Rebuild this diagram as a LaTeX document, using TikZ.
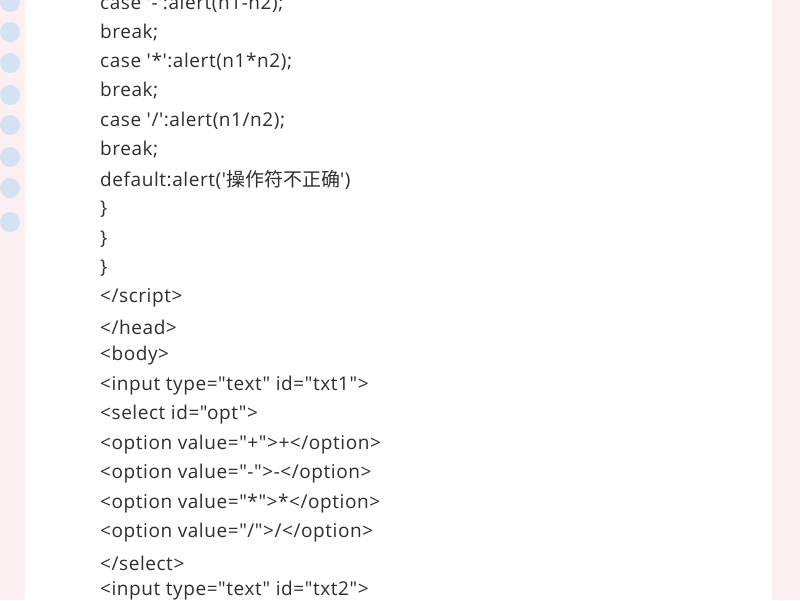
\documentclass[tikz,border=0pt]{standalone}
\usepackage{fontspec}
\setmainfont{Open Sans}[Ligatures=TeXOff,LetterSpace=3]
\newfontfamily\cjk{Noto Sans CJK SC}
\definecolor{pagebg}{HTML}{FCEFF1}
\definecolor{dotblue}{HTML}{D5E2F2}
\definecolor{codetext}{HTML}{2E2E2E}
\tikzset{
  code/.style={anchor=west, inner sep=0pt, text=codetext, font=\fontsize{19}{20}\selectfont},
  dot/.style={circle, fill=dotblue, minimum size=20pt, inner sep=0pt}
}
\begin{document}
\begin{tikzpicture}[x=1pt,y=-1pt]
    \fill[pagebg] (0,0) rectangle (800,600);
    \useasboundingbox (0,0) rectangle (800,600);
    \fill[white] (25,0) rectangle (772,600);

    \foreach \k/\yy in {1/2,2/32,3/63,4/95,5/125,6/157,7/188,8/222}
      \node[dot] (dot\k) at (10,\yy) {};

    \node[code] (l1) at (100,4) {case '-':alert(n1-n2);};
    \node[code] (l2) at (100,33) {break;};
    \node[code] (l3) at (100,62) {case '*':alert(n1*n2);};
    \node[code] (l4) at (100,91) {break;};
    \node[code] (l5) at (100,121) {case '/':alert(n1/n2);};
    \node[code] (l6) at (100,150) {break;};
    \node[code] (l7) at (100,180) {default:alert('{\cjk\fontsize{19}{20}\selectfont 操作符不正确}')};
    \node[code] (l8) at (100,209) {\}};
    \node[code] (l9) at (100,239) {\}};
    \node[code] (l10) at (100,268) {\}};
    \node[code] (l11) at (100,298) {</script>};
    \node[code] (l12) at (100,327) {</head>};
    \node[code] (l13) at (100,356) {<body>};
    \node[code] (l14) at (100,386) {<input type="text" id="txt1">};
    \node[code] (l15) at (100,415) {<select id="opt">};
    \node[code] (l16) at (100,445) {<option value="+">+</option>};
    \node[code] (l17) at (100,474) {<option value="-">-</option>};
    \node[code] (l18) at (100,504) {<option value="*">*</option>};
    \node[code] (l19) at (100,533) {<option value="/">/</option>};
    \node[code] (l20) at (100,563) {</select>};
    \node[code] (l21) at (100,591) {<input type="text" id="txt2">};
\end{tikzpicture}
\end{document}
